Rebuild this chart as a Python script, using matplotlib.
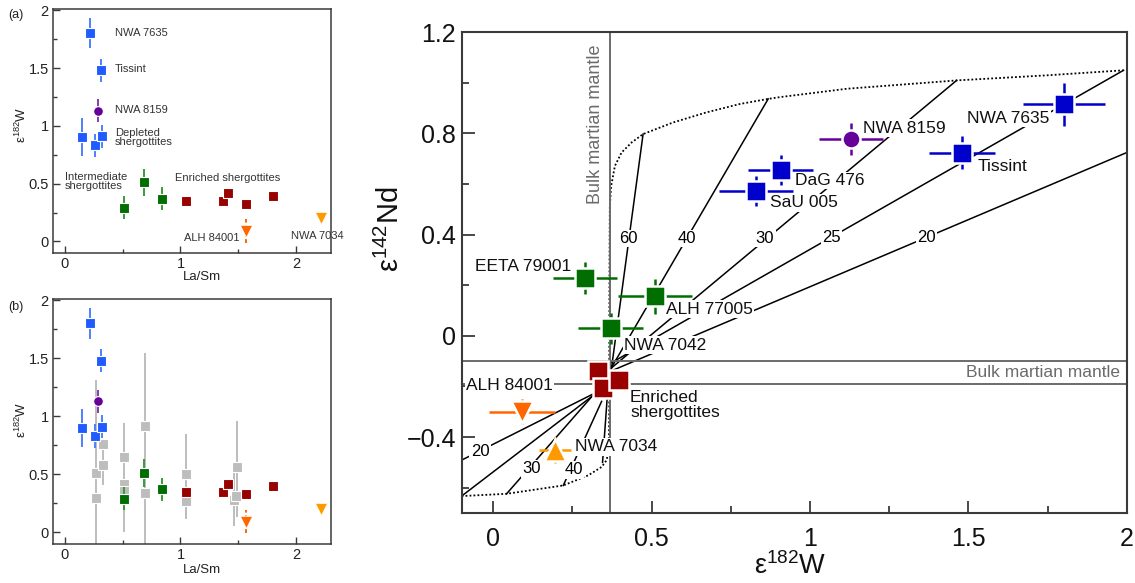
import matplotlib
matplotlib.use("Agg")
import matplotlib.pyplot as plt
import numpy as np

plt.rcParams['font.family'] = ['Liberation Sans', 'DejaVu Sans']
plt.rcParams['mathtext.fontset'] = 'custom'
plt.rcParams['mathtext.rm'] = 'Liberation Sans'
plt.rcParams['mathtext.it'] = 'Liberation Sans:italic'

# ---------------- panels (a) and (b): La/Sm vs e182W ----------------
dep_lasm = [0.216, 0.31, 0.15, 0.265, 0.323]
dep_w = [1.80, 1.48, 0.90, 0.83, 0.91]
dep_werr = [0.13, 0.10, 0.165, 0.10, 0.10]

n8159_lasm = [0.29]
n8159_w = [1.13]
n8159_werr = [0.10]

int_lasm = [0.51, 0.687, 0.843]
int_w = [0.29, 0.51, 0.37]
int_werr = [0.10, 0.12, 0.10]

enr_lasm = [1.048, 1.365, 1.414, 1.564, 1.798]
enr_w = [0.347, 0.347, 0.419, 0.327, 0.396]

alh84_lasm = [1.567]
alh84_w = [0.09]
alh84_werr = [0.10]

n7034_lasm = [2.21]
n7034_w = [0.20]
n7034_werr = [0.03]

# older literature data (grey, panel b)
lit_lasm = [0.267, 0.267, 0.328, 0.328, 0.51, 0.51, 0.51, 0.692, 0.692, 1.05, 1.05, 1.46, 1.48, 1.49]
lit_w = [0.51, 0.293, 0.763, 0.576, 0.653, 0.417, 0.354, 0.912, 0.34, 0.504, 0.273, 0.279, 0.31, 0.566]
lit_lo = [-0.3, np.nan, np.nan, 0.41, np.nan, 0.0, np.nan, np.nan, -0.3, np.nan, 0.115, 0.058, np.nan, 0.13]
lit_hi = [1.31, np.nan, np.nan, 0.79, np.nan, 0.94, np.nan, np.nan, 1.545, np.nan, 0.848, 0.60, np.nan, 0.963]

# ---------------- main panel: e182W vs e142Nd ----------------
dep_m_w = [1.802, 1.480, 0.907, 0.829]      # NWA 7635, Tissint, DaG 476, SaU 005
dep_m_nd = [0.914, 0.724, 0.655, 0.571]
dep_m_werr = [0.13, 0.103, 0.103, 0.117]
dep_m_nderr = [0.084, 0.064, 0.058, 0.06]

n8159_m_w = [1.129]
n8159_m_nd = [0.777]
n8159_m_werr = [0.10]
n8159_m_nderr = [0.062]

int_m_w = [0.29, 0.511, 0.371]              # EETA 79001, ALH 77005, NWA 7042
int_m_nd = [0.23, 0.157, 0.029]
int_m_werr = [0.10, 0.117, 0.102]
int_m_nderr = [0.063, 0.069, 0.06]

enr_m_w = [0.33, 0.347, 0.398]
enr_m_nd = [-0.137, -0.206, -0.175]

alh84_m_w = [0.09]
alh84_m_nd = [-0.299]
alh84_m_werr = [0.104]
alh84_m_nderr = [0.05]

n7034_m_w = [0.195]
n7034_m_nd = [-0.451]
n7034_m_werr = [0.05]
n7034_m_nderr = [0.05]

bulk_w = 0.37
bulk_nd_lo, bulk_nd_hi = -0.19, -0.10

# dotted mixing envelope
env_w = [-0.1, 0.042, 0.221, 0.30, 0.342, 0.358, 0.365, 0.366, 0.367, 0.368, 0.372, 0.384, 0.405,
         0.437, 0.473, 0.568, 0.674, 0.779, 0.868, 0.905, 1.116, 1.463, 1.747, 1.99]
env_nd = [-0.633, -0.624, -0.591, -0.551, -0.518, -0.491, -0.445, -0.3, 0.3, 0.511, 0.591, 0.671, 0.724,
          0.764, 0.797, 0.843, 0.883, 0.916, 0.936, 0.943, 0.976, 1.009, 1.029, 1.049]

# mixing lines (start -> end) and labels
mix_w0 = [0.373, 0.371, 0.37, 0.375, 0.37, 0.321, 0.321, 0.321, 0.342, 0.36]
mix_nd0 = [-0.13, -0.13, -0.13, -0.105, -0.14, -0.226, -0.23, -0.226, -0.259, -0.24]
mix_w1 = [0.473, 0.868, 1.463, 1.99, 2.0, -0.1, -0.1, 0.042, 0.221, 0.345]
mix_nd1 = [0.797, 0.936, 1.009, 1.049, 0.724, -0.491, -0.633, -0.624, -0.591, -0.50]
mix_lab = ['60', '40', '30', '25', '20', '20', '30', '40']
mix_lab_w = [0.425, 0.611, 0.858, 1.068, 1.368, -0.042, 0.121, 0.253]
mix_lab_nd = [0.385, 0.385, 0.385, 0.389, 0.389, -0.455, -0.525, -0.529]

names = ['NWA 7635', 'Tissint', 'NWA 8159', 'DaG 476', 'SaU 005', 'EETA 79001', 'ALH 77005',
         'NWA 7042', 'ALH 84001', 'NWA 7034']
name_w = [1.495, 1.528, 1.168, 0.953, 0.873, 0.245, 0.545, 0.414, 0.188, 0.258]
name_nd = [0.86, 0.67, 0.82, 0.614, 0.525, 0.272, 0.106, -0.037, -0.196, -0.438]
name_ha = ['left', 'left', 'left', 'left', 'left', 'right', 'left', 'left', 'right', 'left']

BLUE_S = '#1f5bff'
BLUE_M = '#0000cc'
PURPLE = '#660099'
GREEN = '#006e00'
RED = '#990000'
ORANGE = '#ff6600'
ORANGE2 = '#ff9900'
GREY = '#bdbdbd'
SPINE = '#3a3a3a'


def fmt(v):
    return ('%g' % v).replace('-', '\u2212')


fig = plt.figure(figsize=(11.35, 5.83), dpi=100)
ax_a = fig.add_axes([0.0467, 0.566, 0.245, 0.4185])
ax_b = fig.add_axes([0.0467, 0.067, 0.245, 0.420])
ax = fig.add_axes([0.4067, 0.120, 0.586, 0.825])


def small_points(a):
    a.errorbar(dep_lasm, dep_w, yerr=dep_werr, fmt='s', color=BLUE_S, ms=7, mec='white', mew=0.8,
               ecolor='#4d80ff', elinewidth=1.4, capsize=0, zorder=4)
    a.errorbar(n8159_lasm, n8159_w, yerr=n8159_werr, fmt='o', color=PURPLE, ms=7, mec='white', mew=0.8,
               ecolor='#8040b0', elinewidth=1.4, capsize=0, zorder=4)
    a.errorbar(int_lasm, int_w, yerr=int_werr, fmt='s', color=GREEN, ms=7, mec='white', mew=0.8,
               ecolor='#3a9a3a', elinewidth=1.4, capsize=0, zorder=4)
    a.plot(enr_lasm, enr_w, 's', color=RED, ms=7, mec='white', mew=0.8, zorder=4)
    e1 = a.errorbar(alh84_lasm, alh84_w, yerr=alh84_werr, fmt='v', color=ORANGE, ms=8, mec='white', mew=0.5,
                    ecolor=ORANGE, elinewidth=1.4, capsize=0, zorder=4)
    e1[2][0].set_linestyle((0, (2, 1.5)))
    a.errorbar(n7034_lasm, n7034_w, yerr=n7034_werr, fmt='v', color=ORANGE2, ms=8, mec='white', mew=0.5,
               ecolor=ORANGE2, elinewidth=1.4, capsize=0, zorder=4)


def small_style(a):
    a.set_xlim(-0.1, 2.3)
    a.set_ylim(-0.1, 2.01)
    a.set_xticks([0, 1, 2])
    a.set_xticks([0.5, 1.5], minor=True)
    a.set_yticks([0, 0.5, 1, 1.5, 2])
    a.set_yticks([0.25, 0.75, 1.25, 1.75], minor=True)
    a.set_xticklabels([fmt(v) for v in [0, 1, 2]])
    a.set_yticklabels([fmt(v) for v in [0, 0.5, 1, 1.5, 2]])
    a.tick_params(which='major', direction='in', length=5, width=1, labelsize=10.5, color=SPINE,
                  labelcolor='#222222', pad=3)
    a.tick_params(which='minor', direction='in', length=3, width=1, color=SPINE)
    for s in a.spines.values():
        s.set_color(SPINE)
        s.set_linewidth(1.1)
    a.set_xlabel('La/Sm', fontsize=9.5, color='#222222')
    a.set_ylabel('\u03b5$^{182}$W', fontsize=9.5, color='#222222')


small_points(ax_a)
small_style(ax_a)
ax_a.xaxis.set_label_coords(0.536, -0.075)
ax_a.yaxis.set_label_coords(-0.085, 0.525)

tk = dict(fontsize=8, color='#333333', va='center')
ax_a.text(0.433, 1.80, 'NWA 7635', **tk)
ax_a.text(0.433, 1.49, 'Tissint', **tk)
ax_a.text(0.433, 1.136, 'NWA 8159', **tk)
ax_a.text(0.433, 0.90, 'Depleted\nshergottites', linespacing=0.95, **tk)
ax_a.text(0.0, 0.52, 'Intermediate\nshergottites', linespacing=0.95, **tk)
ax_a.text(0.95, 0.55, 'Enriched shergottites', **tk)
ax_a.text(1.03, 0.03, 'ALH 84001', **tk)
ax_a.text(1.95, 0.05, 'NWA 7034', **tk)

# panel (b)
lo = np.array(lit_lo)
hi = np.array(lit_hi)
has = ~np.isnan(lo)
ax_b.vlines(np.array(lit_lasm)[has], lo[has], hi[has], color=GREY, lw=1.4, zorder=2)
ax_b.plot(lit_lasm, lit_w, 's', color=GREY, ms=7, mec='white', mew=0.8, zorder=3)
small_points(ax_b)
small_style(ax_b)
ax_b.xaxis.set_label_coords(0.536, -0.08)
ax_b.yaxis.set_label_coords(-0.085, 0.506)

fig.text(0.007, 0.975, '(a)', fontsize=9, color='#222222', va='center')
fig.text(0.007, 0.474, '(b)', fontsize=9, color='#222222', va='center')

# ---------------- main panel ----------------
ax.set_xlim(-0.1, 2.0)
ax.set_ylim(-0.7, 1.2)

for i in range(len(mix_w0)):
    ax.plot([mix_w0[i], mix_w1[i]], [mix_nd0[i], mix_nd1[i]], color='black', lw=1.1, zorder=1)
ax.plot(env_w, env_nd, color='black', lw=1.3, ls=(0, (1, 1.2)), zorder=1)

ax.axvline(bulk_w, color='#6b6b6b', lw=1.4, zorder=1.5)
ax.axhline(bulk_nd_lo, color='#6b6b6b', lw=1.4, zorder=1.5)
ax.axhline(bulk_nd_hi, color='#6b6b6b', lw=1.4, zorder=1.5)
ax.text(1.98, (bulk_nd_lo + bulk_nd_hi) / 2, 'Bulk martian mantle', ha='right', va='center',
        fontsize=12.5, color='#6b6b6b', zorder=2)
ax.text(0.322, 0.834, 'Bulk martian mantle', rotation=90, ha='center', va='center',
        fontsize=13, color='#6b6b6b', zorder=2)

wb = dict(facecolor='white', edgecolor='none', pad=1.0)
for lab, x, y in zip(mix_lab, mix_lab_w, mix_lab_nd):
    ax.text(x, y, lab, ha='center', va='center', fontsize=12, color='black', bbox=wb, zorder=3)

for nm, x, y, ha in zip(names, name_w, name_nd, name_ha):
    ax.text(x, y, nm, ha=ha, va='center', fontsize=12.5, color='#111111', bbox=wb, zorder=3)
ax.text(0.432, -0.212, 'Enriched\nshergottites', ha='left', va='top', fontsize=12.5,
        color='#111111', linespacing=1.0, zorder=3)

ekw = dict(capsize=0, elinewidth=1.8, mec='white', mew=1.8, zorder=4)
ax.errorbar(dep_m_w, dep_m_nd, xerr=dep_m_werr, yerr=dep_m_nderr, fmt='s', color=BLUE_M, ms=14,
            ecolor=BLUE_M, **ekw)
ax.errorbar(n8159_m_w, n8159_m_nd, xerr=n8159_m_werr, yerr=n8159_m_nderr, fmt='o', color=PURPLE, ms=13,
            ecolor=PURPLE, **ekw)
ax.errorbar(int_m_w, int_m_nd, xerr=int_m_werr, yerr=int_m_nderr, fmt='s', color=GREEN, ms=14,
            ecolor=GREEN, **ekw)
ax.errorbar(alh84_m_w, alh84_m_nd, xerr=alh84_m_werr, yerr=alh84_m_nderr, fmt='v', color=ORANGE, ms=16,
            ecolor=ORANGE, **ekw)
ax.errorbar(n7034_m_w, n7034_m_nd, xerr=n7034_m_werr, yerr=n7034_m_nderr, fmt='^', color=ORANGE2, ms=16,
            ecolor=ORANGE2, **ekw)
ax.plot(enr_m_w, enr_m_nd, 's', color=RED, ms=14, mec='white', mew=1.8, zorder=4)

ax.set_xticks([0, 0.5, 1, 1.5, 2])
ax.set_xticks([0.25, 0.75, 1.25, 1.75], minor=True)
ax.set_yticks([-0.4, 0, 0.4, 0.8, 1.2])
ax.set_yticks([-0.6, -0.2, 0.2, 0.6, 1.0], minor=True)
ax.set_xticklabels([fmt(v) for v in [0, 0.5, 1, 1.5, 2]])
ax.set_yticklabels([fmt(v) for v in [-0.4, 0, 0.4, 0.8, 1.2]])
ax.tick_params(which='major', direction='in', length=9, width=1.3, labelsize=18, color=SPINE,
               labelcolor='#111111')
ax.tick_params(axis='x', which='major', pad=10)
ax.tick_params(axis='y', which='major', pad=4)
ax.tick_params(which='minor', direction='in', length=5, width=1.3, color=SPINE)
for s in ax.spines.values():
    s.set_color(SPINE)
    s.set_linewidth(1.5)
ax.set_xlabel('\u03b5$^{182}$W', fontsize=19.5, color='#111111')
ax.set_ylabel('\u03b5$^{142}$Nd', fontsize=21, color='#111111')
ax.xaxis.set_label_coords(0.494, -0.081)
ax.yaxis.set_label_coords(-0.085, 0.59)

fig.savefig('out.png', dpi=100)
